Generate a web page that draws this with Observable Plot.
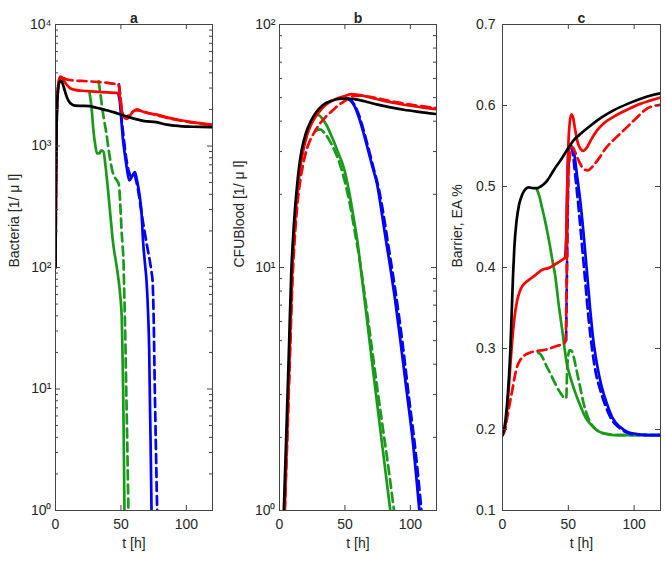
<!DOCTYPE html>
<html><head><meta charset="utf-8">
<script src="https://cdn.jsdelivr.net/npm/d3@7"></script>
<script src="https://cdn.jsdelivr.net/npm/@observablehq/plot@0.6"></script>
<style>
body{margin:0;background:#fff;}
#wrap{position:relative;width:666px;height:562px;font-family:"Liberation Sans",Arial,sans-serif;}
#wrap svg{position:absolute;top:0;}
</style></head><body><div id="wrap"></div>
<script>
// ---------- Panel a: Bacteria [1/µl] (log) ----------
const aBlack = [[0,100],[0.3,350],[0.7,1100],[1.2,2100],[2,2900],[3,3350],[4,3450],[5,3350],[6.5,3000],[8,2650],[10,2350],[12.5,2200],[15,2150],[20,2140],[26,2130],[30,2080],[35,2020],[40,1960],[45,1890],[52,1780],[60,1680],[68,1600],[77,1570],[85,1500],[95,1460],[105,1440],[118,1430],[120,1425]];
const aRed = [[0,100],[0.3,350],[0.7,1100],[1.2,2200],[2,3100],[3,3550],[4.5,3700],[6,3500],[8,3250],[11,3000],[15,2900],[20,2850],[30,2800],[40,2760],[48,2720],[49.3,2500],[50.5,2000],[52,1740],[54.4,1675],[56.5,1760],[59,1900],[62,2000],[66,1930],[72,1850],[77,1820],[85,1720],[97,1620],[108,1550],[120,1500]];
const aRedDash = [[0,100],[0.3,350],[0.7,1100],[1.2,2200],[2,3150],[3,3600],[4.5,3780],[6,3650],[8,3550],[13,3470],[20,3430],[30,3380],[38,3320],[44,3260],[48,3220],[49.5,2600],[51,1900],[53,1720],[55,1760],[58,1870],[61,1960],[64,1960],[70,1880],[80,1760],[90,1660],[100,1590],[110,1530],[120,1490]];
const aGreen = [[26,2750],[27.5,2100],[29,1340],[30.5,1000],[31.7,870],[33.5,870],[35,920],[36.7,900],[38,720],[40,450],[41.8,280],[44.3,150],[46,115],[48,82],[49.4,60],[50.6,39],[51.2,20],[51.7,10],[52.2,3.5],[52.7,1]];
const aGreenDash = [[33,3400],[34.5,2600],[36,1950],[37.5,1550],[39,1250],[40.5,950],[42,750],[43.5,620],[45,560],[47,520],[48.5,480],[49.5,330],[50.5,200],[51.3,150],[52,110],[52.5,65],[53,40],[53.5,22],[54,11],[54.6,5],[55.1,2.5],[55.7,1]];
const aBlue = [[48,2700],[49.2,2300],[50.4,1600],[51.5,1150],[53,850],[54.4,670],[56.4,520],[58.5,560],[60.7,610],[62,540],[63.3,457],[64.6,370],[65.8,277],[67,160],[68.3,110],[69.6,77],[70.9,39],[71.6,21],[72.1,9],[72.7,3.5],[73.4,1]];
const aBlueDash = [[48.5,3220],[49.5,2500],[50.5,1700],[52,1200],[54,800],[56,620],[58,560],[60,580],[62,500],[64,380],[66,270],[68,200],[70,150],[72,115],[73.5,90],[74.2,78],[75,40],[75.9,10],[76.7,3.5],[77.7,1]];

// ---------- Panel b: CFUBlood [1/µl] (log) ----------
const bBlack = [[3.3,1],[5,1.9],[7,4.2],[9,9.5],[11,15],[13,20.5],[15,26],[17,30.5],[20,35.5],[24,40],[28,43.5],[33,46.5],[40,48.6],[47,49.5],[52,49.6],[58,49.2],[65,48.3],[75,46.8],[85,45.6],[95,44.6],[105,43.8],[120,42.8]];
const bRed = [[4,1],[5.5,1.8],[7.5,4],[9.5,9],[11.5,14.5],[13.5,20],[15.5,25],[18,30],[21,35],[25,39.5],[30,43.5],[35,46.5],[40,48.5],[45,49.8],[50,50.8],[55,51.7],[60,51.3],[70,50],[80,48.5],[90,47.3],[100,46.3],[110,45.5],[120,44.8]];
const bRedDash = [[4,1],[5.7,1.8],[7.8,4],[10,9],[12,14],[14,19],[16,23],[18,26.5],[20,29.5],[23,33],[26,35.5],[30,38.5],[35,41.5],[40,44],[45,46.5],[50,48.5],[55,50.5],[60,51],[70,50.3],[80,49],[90,47.8],[100,46.8],[110,46],[120,45.3]];
const bGreen = [[29,42.5],[31,42],[33,40.8],[36,38.5],[39,35.5],[42,32.5],[45,29.5],[49,25.9],[53,20.8],[57,15.6],[60,12.3],[62,10],[66,6.7],[70,4.4],[75,2.65],[80,1.6],[84.7,1]];
const bGreenDash = [[28,36.6],[31,37],[34,36],[37,34.2],[40,32],[43,29.5],[46,26.8],[50,22.5],[54,18],[58,13.6],[61,11],[64,8.5],[67,6.5],[71,4.5],[75,3.1],[80,2],[84,1.4],[87.5,1]];
const bBlue = [[51,49.6],[54,48.8],[57,46.5],[60,42.5],[64.4,35.5],[68,30],[71,26],[74.6,22],[78,17],[81,13.3],[84.7,10],[88,7.6],[92,5.2],[97.5,3],[102,1.9],[106.9,1]];
const bBlueDash = [[52,49.5],[55,48.5],[58,46],[61,42],[65,35.5],[69,29.5],[72,25.5],[76,21],[79.5,16.5],[83,12.5],[86.5,9.5],[90,7.1],[94,4.9],[99,2.9],[104,1.75],[108.5,1]];

// ---------- Panel c: Barrier, EA % (linear) ----------
const cBlack = [[0,0.193],[1.2,0.2],[2.3,0.212],[3.5,0.232],[4.8,0.262],[6,0.3],[7,0.345],[8,0.39],[9,0.425],[10.5,0.455],[12.5,0.477],[15,0.49],[17.5,0.497],[20,0.499],[23,0.498],[26.5,0.498],[29,0.5],[31.5,0.503],[33.8,0.507],[37,0.515],[40,0.523],[44,0.532],[49,0.545],[54,0.557],[60,0.566],[66.7,0.575],[75,0.585],[84.3,0.594],[95,0.602],[104.5,0.608],[112,0.612],[120,0.615]];
const cRed = [[0,0.193],[1.5,0.2],[3,0.215],[4.5,0.245],[6,0.28],[7.4,0.31],[9,0.337],[11,0.358],[13,0.37],[15.5,0.378],[18.7,0.383],[22,0.387],[26,0.392],[30,0.397],[36,0.4],[40,0.404],[44,0.408],[47.7,0.413],[48.5,0.44],[49.2,0.5],[50,0.55],[51,0.578],[52.3,0.589],[53.5,0.586],[55,0.572],[57,0.555],[59,0.547],[61.5,0.544],[64,0.548],[67,0.557],[71.7,0.569],[77,0.578],[84.3,0.586],[95,0.595],[104.5,0.602],[112,0.606],[120,0.61]];
const cRedDash = [[0,0.193],[2,0.2],[3.6,0.215],[5.5,0.232],[7.4,0.248],[9,0.263],[11,0.277],[14,0.287],[17,0.292],[21,0.295],[26,0.297],[31,0.298],[36,0.3],[41,0.303],[46.5,0.306],[48,0.31],[48.7,0.38],[49.3,0.46],[50,0.51],[51,0.535],[52.8,0.549],[54.5,0.545],[57,0.535],[60,0.525],[62,0.521],[65,0.52],[68,0.524],[72,0.532],[79.3,0.549],[86,0.56],[94.4,0.573],[102,0.585],[109.6,0.596],[120,0.601]];
const cGreen = [[26,0.497],[28,0.488],[30,0.474],[32,0.46],[33.8,0.446],[36,0.427],[38,0.408],[40.2,0.388],[42.6,0.355],[45,0.327],[48.9,0.281],[52,0.262],[56.5,0.24],[60,0.226],[63,0.215],[66.7,0.207],[71,0.2],[76.8,0.195],[85,0.193],[120,0.193]];
const cGreenDash = [[27,0.295],[28.8,0.293],[31,0.287],[33.5,0.278],[36.4,0.269],[39,0.26],[41.5,0.252],[44.5,0.244],[47.7,0.238],[48.5,0.24],[49,0.27],[49.8,0.29],[51,0.298],[52.5,0.297],[54,0.29],[56,0.275],[59,0.252],[61.5,0.233],[64,0.219],[67,0.208],[71.7,0.199],[78,0.195],[90,0.193],[120,0.193]];
const cBlue = [[47.7,0.413],[48.5,0.44],[49.2,0.5],[50.2,0.545],[51.5,0.55],[53,0.548],[54.5,0.54],[56.5,0.515],[59,0.483],[61.5,0.443],[64,0.397],[66.5,0.35],[69,0.31],[71.7,0.281],[75,0.255],[79.3,0.232],[84,0.213],[89.4,0.203],[95,0.197],[100,0.195],[110,0.193],[120,0.193]];
const cBlueDash = [[48.3,0.31],[49,0.4],[49.8,0.5],[50.6,0.548],[52,0.55],[53.5,0.54],[55.5,0.51],[58,0.47],[60.5,0.425],[63,0.38],[65.5,0.335],[68,0.3],[70.5,0.273],[74,0.25],[78,0.23],[83,0.212],[88,0.203],[95,0.196],[100,0.194],[120,0.193]];

// ---------- ticks / labels ----------
const xTicks = [0, 50, 100];
const aYTicks = [1, 10, 100, 1000, 10000];
const bYTicks = [1, 10, 100];
const cYTicks = [0.1, 0.2, 0.3, 0.4, 0.5, 0.6, 0.7];
const titles = ["a", "b", "c"];
const yLabels = ["Bacteria [1/ \u03bc l]", "CFUBlood [1/ \u03bc l]", "Barrier, EA %"];
const xLabel = "t [h]";

const RED = "#ff0000", GREEN = "#1a9a1a", BLUE = "#0000ff", BLACK = "#000000";
const sup = {"0":"\u2070","1":"\u00b9","2":"\u00b2","3":"\u00b3","4":"\u2074"};
const logFmt = d => "10" + sup[String(Math.round(Math.log10(d)))];
function minorLog(lo, hi) {
  const out = [];
  for (let e = lo; e < hi; e++) for (let m = 2; m <= 9; m++) out.push(m * Math.pow(10, e));
  return out;
}

const H = 562, MT = 24, MB = 52;
const AX = "#444", TXT = "#262626";

function makePanel(cfg) {
  const fw = cfg.width - cfg.ml - cfg.mr;
  const fh = H - MT - MB;
  const marks = [];
  const order = [
    [cfg.s.greenDash, GREEN, true], [cfg.s.green, GREEN, false],
    [cfg.s.blueDash, BLUE, true], [cfg.s.blue, BLUE, false],
    [cfg.s.redDash, RED, true], [cfg.s.red, RED, false],
    [cfg.s.black, BLACK, false]
  ];
  for (const [data, color, dash] of order) {
    marks.push(Plot.line(data, {x: d => d[0], y: d => d[1], stroke: color, strokeWidth: 2.7,
      strokeDasharray: dash ? "9,5" : null, curve: "monotone-x", clip: true}));
  }
  marks.push(Plot.tickY(cfg.yTicks, {y: d => d, insetRight: fw - 5, stroke: AX}));
  marks.push(Plot.tickY(cfg.yTicks, {y: d => d, insetLeft: fw - 5, stroke: AX}));
  if (cfg.minor) {
    marks.push(Plot.tickY(cfg.minor, {y: d => d, insetRight: fw - 3, stroke: AX}));
    marks.push(Plot.tickY(cfg.minor, {y: d => d, insetLeft: fw - 3, stroke: AX}));
  }
  marks.push(Plot.tickX(xTicks, {x: d => d, insetTop: fh - 5, stroke: AX}));
  marks.push(Plot.tickX(xTicks, {x: d => d, insetBottom: fh - 5, stroke: AX}));
  marks.push(Plot.frame({stroke: AX}));
  marks.push(Plot.axisY(cfg.yTicks, {tickSize: 0, tickPadding: cfg.tp, tickFormat: cfg.fmt, label: null, fontSize: 14, fill: TXT}));
  marks.push(Plot.axisX(xTicks, {tickSize: 0, tickPadding: 9, label: null, fontSize: 14, fill: TXT}));
  marks.push(Plot.text([cfg.title], {text: d => d, frameAnchor: "top", dy: -11, fontWeight: "bold", fontSize: 14, fill: TXT}));
  marks.push(Plot.text([cfg.ylabel], {text: d => d, frameAnchor: "left", rotate: -90, dx: cfg.ldx, fontSize: 14, fill: TXT}));
  marks.push(Plot.text([xLabel], {text: d => d, frameAnchor: "bottom", dy: 37, fontSize: 14, fill: TXT}));
  const svg = Plot.plot({
    width: cfg.width, height: H,
    marginLeft: cfg.ml, marginRight: cfg.mr, marginTop: MT, marginBottom: MB,
    x: {domain: [0, 120], axis: null},
    y: {type: cfg.yType, domain: cfg.yDomain, axis: null},
    style: {fontFamily: "'Liberation Sans', Arial, sans-serif", fontSize: "14px", color: TXT, background: "transparent", overflow: "visible"},
    marks
  });
  svg.style.left = cfg.left + "px";
  document.getElementById("wrap").appendChild(svg);
}

makePanel({left: 0, width: 222, ml: 55, mr: 10, yType: "log", yDomain: [1, 10000], yTicks: aYTicks, minor: minorLog(0, 4), fmt: logFmt, tp: 4, title: titles[0], ylabel: yLabels[0], ldx: -41,
  s: {black: aBlack, red: aRed, redDash: aRedDash, green: aGreen, greenDash: aGreenDash, blue: aBlue, blueDash: aBlueDash}});
makePanel({left: 222, width: 222, ml: 57, mr: 8, yType: "log", yDomain: [1, 100], yTicks: bYTicks, minor: minorLog(0, 2), fmt: logFmt, tp: 4, title: titles[1], ylabel: yLabels[1], ldx: -40,
  s: {black: bBlack, red: bRed, redDash: bRedDash, green: bGreen, greenDash: bGreenDash, blue: bBlue, blueDash: bBlueDash}});
makePanel({left: 444, width: 222, ml: 58, mr: 6, yType: "linear", yDomain: [0.1, 0.7], yTicks: cYTicks, minor: null, fmt: d => d.toFixed(1), tp: 7, title: titles[2], ylabel: yLabels[2], ldx: -45,
  s: {black: cBlack, red: cRed, redDash: cRedDash, green: cGreen, greenDash: cGreenDash, blue: cBlue, blueDash: cBlueDash}});
</script>
</body></html>
